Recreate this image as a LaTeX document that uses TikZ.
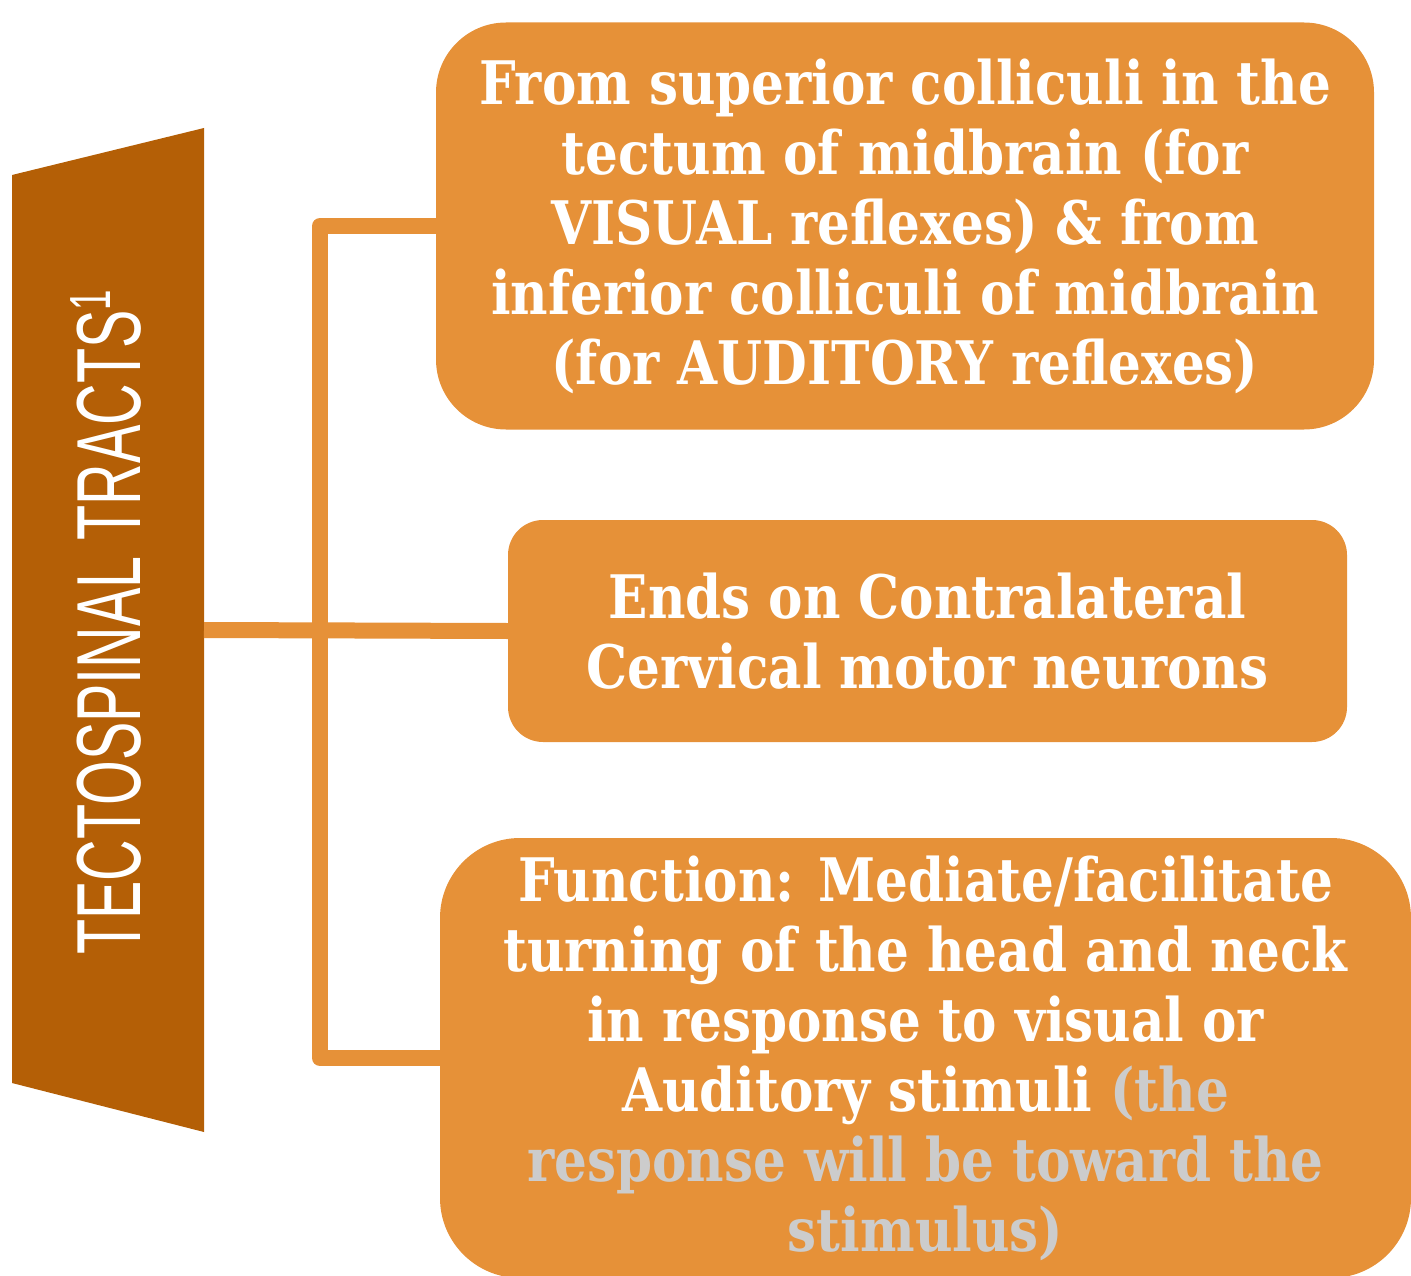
\documentclass[tikz,border=0pt]{standalone}
\usepackage{fontspec}
\setmainfont{DejaVu Serif}
\newfontfamily\boxfont{DejaVu Serif}[FakeStretch=0.86]
\newfontfamily\tractfont{Liberation Sans}[FakeStretch=0.632]
\definecolor{tractbrown}{HTML}{B45F06}
\definecolor{boxorange}{HTML}{E69138}
\definecolor{notegray}{HTML}{CCCCCC}

\begin{document}
\begin{tikzpicture}[
x=1pt, y=-1pt,
tract/.style={fill=tractbrown},
info/.style={fill=boxorange, text=white, align=center, inner sep=0pt, font=\boxfont\bfseries\fontsize{60}{70}\selectfont},
link/.style={draw=boxorange, line width=16pt, line join=round},
title/.style={text=white, inner sep=0pt, font=\tractfont\fontsize{91}{91}\selectfont},
note/.style={text=notegray}
]

\useasboundingbox (0,0) rectangle (1411,1276);

%%% Tract
\fill[tract] (12,175) -- (204,128) -- (204,1132) -- (12,1083) -- cycle;
\node[title, rotate=90, anchor=base west] (tract) at (140,955)
	{TECTOSPINAL TRACTS\raisebox{30pt}{\fontsize{58}{58}\selectfont 1}};
\coordinate (tractR) at (204,630);
\coordinate (spine) at (320,630);

%%% Boxes
\node[info, rounded corners=70pt, minimum width=938pt, minimum height=407pt] (origin) at (905,226)
	{From superior colliculi in the\\tectum of midbrain (for\\VISUAL reflexes) \& from\\inferior colliculi of midbrain\\(for AUDITORY reflexes)};
\node[info, rounded corners=35pt, minimum width=839pt, minimum height=222pt] (ending) at (927.5,631)
	{Ends on Contralateral\\Cervical motor neurons};
\node[info, rounded corners=80pt, minimum width=971pt, minimum height=440pt] (function) at (925.5,1058)
	{Function: Mediate/facilitate\\turning of the head and neck\\in response to visual or\\Auditory stimuli \textcolor{notegray}{(the}\\\textcolor{notegray}{response will be toward the}\\\textcolor{notegray}{stimulus)}};

%%% Links
\draw[link] (origin.west) -| (spine) |- (function.west);
\draw[link] (tractR) -- (ending.west);

\end{tikzpicture}
\end{document}
